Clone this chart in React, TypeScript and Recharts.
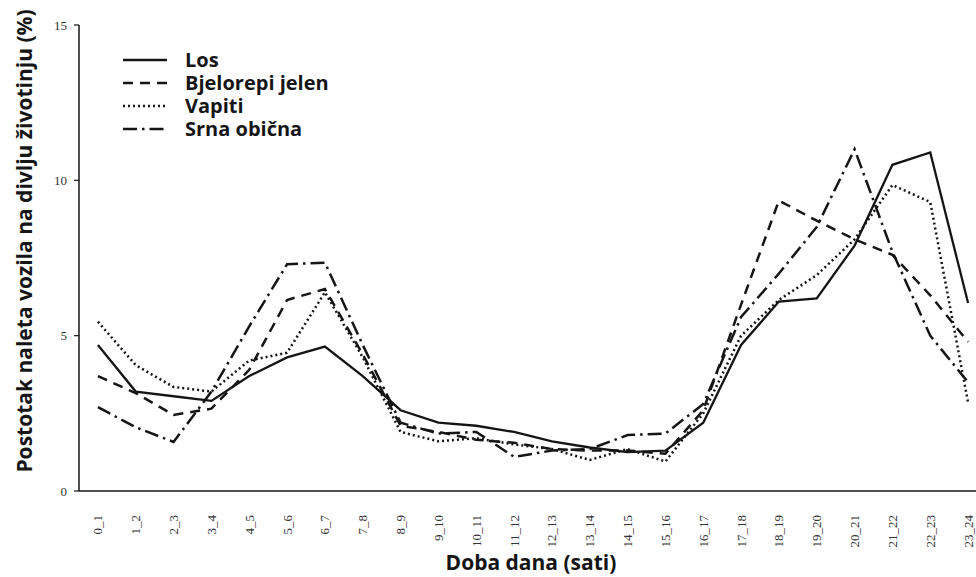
import React from 'react';
import { LineChart, Line, XAxis, YAxis, Legend, Label } from 'recharts';

const hours = ['0_1','1_2','2_3','3_4','4_5','5_6','6_7','7_8','8_9','9_10','10_11','11_12','12_13','13_14','14_15','15_16','16_17','17_18','18_19','19_20','20_21','21_22','22_23','23_24'];
const los = [4.7, 3.2, 3.05, 2.9, 3.7, 4.3, 4.65, 3.7, 2.6, 2.2, 2.1, 1.9, 1.6, 1.4, 1.25, 1.3, 2.2, 4.7, 6.1, 6.2, 7.9, 10.5, 10.9, 6.05];
const bjelorepiJelen = [3.7, 3.15, 2.45, 2.65, 3.9, 6.15, 6.5, 4.4, 2.1, 1.9, 1.65, 1.55, 1.35, 1.3, 1.3, 1.2, 2.6, 6.0, 9.35, 8.7, 8.1, 7.6, 6.3, 4.8];
const vapiti = [5.45, 4.05, 3.35, 3.2, 4.2, 4.45, 6.4, 4.3, 1.9, 1.6, 1.7, 1.5, 1.35, 1.0, 1.35, 0.95, 2.5, 5.0, 6.15, 6.95, 8.1, 9.85, 9.3, 2.85];
const srnaObicna = [2.7, 2.05, 1.58, 3.2, 5.3, 7.3, 7.35, 4.7, 2.2, 1.85, 1.9, 1.1, 1.3, 1.35, 1.8, 1.85, 2.8, 5.6, 7.0, 8.5, 11.0, 7.7, 5.0, 3.5];
const yTicks = [0, 5, 10, 15];

const seriesNames = ['Los', 'Bjelorepi jelen', 'Vapiti', 'Srna obična'];
const seriesKeys = ['los', 'bj', 'vap', 'srna'];
const seriesDash = [undefined, '10 7', '2 3', '14 5 2.5 5'];
const seriesWidth = [2.3, 2.5, 2.5, 2.5];

const data = hours.map((h, i) => ({
  i,
  hour: h,
  los: los[i],
  bj: bjelorepiJelen[i],
  vap: vapiti[i],
  srna: srnaObicna[i],
}));

const labelTicks = hours.map((_, i) => i);
const boundaryTicks = hours.map((_, i) => i + 0.5);

const INK = '#151515';
const titleFont = { fontFamily: '"Open Sans", sans-serif', fontWeight: 700, fontSize: 21, fill: INK };
const legendFont = { fontFamily: '"Open Sans", sans-serif', fontWeight: 700, fontSize: 20, fill: INK };
const tickFont = { fontFamily: '"Liberation Serif", "DejaVu Serif", serif', fontSize: 13, fill: '#333' };

const HourTick = (props: any) => {
  const { x, y, payload } = props;
  return (
    <text
      x={x - 15}
      y={y}
      transform={`rotate(-90 ${x} ${y})`}
      textAnchor="end"
      dy="0.35em"
      style={tickFont}
    >
      {hours[payload.value]}
    </text>
  );
};

const LegendContent = () => (
  <svg width={260} height={100}>
    {seriesNames.map((n, k) => (
      <g key={n}>
        <line
          x1={3}
          x2={47}
          y1={15 + 23 * k}
          y2={15 + 23 * k}
          stroke={INK}
          strokeWidth={seriesWidth[k]}
          strokeDasharray={seriesDash[k]}
        />
        <text x={65} y={22 + 23 * k} style={legendFont}>{n}</text>
      </g>
    ))}
  </svg>
);

export default function App() {
  return (
    <div style={{ position: 'fixed', left: 0, top: 0, width: 976, height: 577, overflow: 'hidden', background: '#fff' }}>
      <LineChart width={1000} height={577} data={data} margin={{ top: 25, right: 13, bottom: 0, left: 0 }}>
        <XAxis
          xAxisId="grid"
          dataKey="i"
          type="number"
          domain={[-0.5, 23.5]}
          ticks={boundaryTicks}
          interval={0}
          tick={false}
          tickSize={4}
          height={1}
          axisLine={{ stroke: INK, strokeWidth: 1.5 }}
          tickLine={{ stroke: INK, strokeWidth: 1.2 }}
        />
        <XAxis
          xAxisId="lab"
          dataKey="i"
          type="number"
          domain={[-0.5, 23.5]}
          ticks={labelTicks}
          interval={0}
          tick={<HourTick />}
          tickLine={false}
          axisLine={false}
          height={85}
        >
          <Label
            content={() => (
              <text x={531} y={570} textAnchor="middle" style={titleFont}>Doba dana (sati)</text>
            )}
          />
        </XAxis>
        <YAxis
          domain={[0, 15]}
          ticks={yTicks}
          interval={0}
          width={79}
          tickSize={5}
          tickMargin={7}
          axisLine={{ stroke: INK, strokeWidth: 1.5 }}
          tickLine={{ stroke: INK, strokeWidth: 1.2 }}
          tick={tickFont}
        >
          <Label
            content={() => (
              <text x={32} y={241} transform="rotate(-90 32 241)" textAnchor="middle" style={titleFont}>
                Postotak naleta vozila na divlju životinju (%)
              </text>
            )}
          />
        </YAxis>
        <Legend
          layout="vertical"
          align="center"
          verticalAlign="middle"
          content={<LegendContent />}
          wrapperStyle={{ left: 120, top: 45, width: 260, height: 100 }}
        />
        {seriesKeys.map((k, idx) => (
          <Line
            key={k}
            xAxisId="lab"
            dataKey={k}
            name={seriesNames[idx]}
            type="linear"
            stroke={INK}
            strokeWidth={seriesWidth[idx]}
            strokeDasharray={seriesDash[idx]}
            dot={false}
            activeDot={false}
            isAnimationActive={false}
          />
        ))}
      </LineChart>
    </div>
  );
}
